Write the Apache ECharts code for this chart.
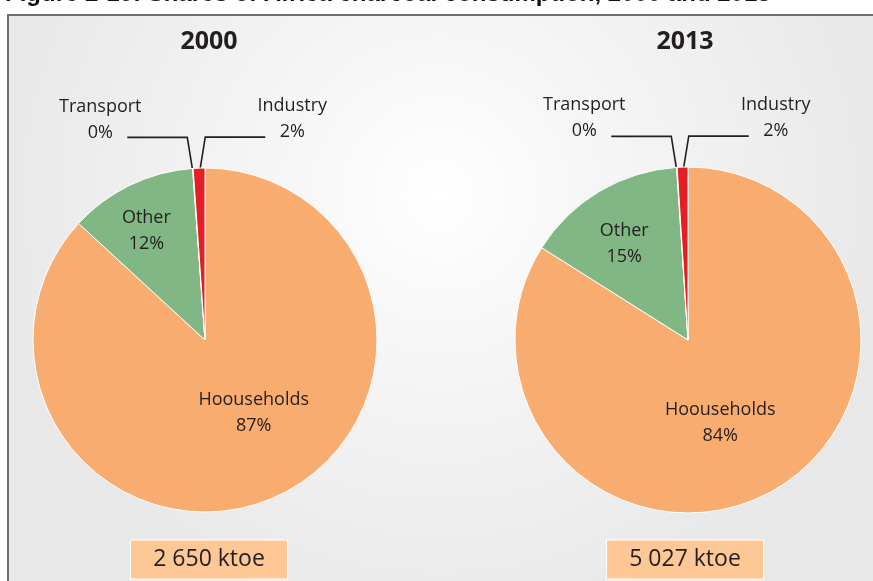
<!DOCTYPE html>
<html>
<head>
<meta charset="utf-8">
<script src="https://cdn.jsdelivr.net/npm/echarts@6/dist/echarts.min.js"></script>
<style>
  html, body { margin: 0; padding: 0; background: #fff; }
  #charcoalChart { width: 873px; height: 581px; }
</style>
</head>
<body>
<div id="charcoalChart"></div>
<script>
// data
const categories = ["Hoouseholds", "Other", "Transport", "Industry"];
const years = ["2000", "2013"];
const shares2000 = [86.9, 12.0, 0.05, 1.1];
const shares2013 = [84.0, 15.0, 0.05, 1.0];
const shareLabels2000 = ["87%", "12%", "0%", "2%"];
const shareLabels2013 = ["84%", "15%", "0%", "2%"];
const totals = ["2 650 ktoe", "5 027 ktoe"];
const figureTitle = "Figure 2-19: Shares of Africa charcoal consumption, 2000 and 2013";

const sliceColors = ["#f9ac6f", "#80b784", "#c8c8c8", "#e31e25"];
const textColor = "#231f20";
const labelFont = "Open Sans";

// layout of the two pies (pixels)
const pieLayouts = [
  { center: [205, 340], radius: 172, boxX: 209, nudge: [[13, -9], [-20, -29]] },
  { center: [688, 340], radius: 173, boxX: 685, nudge: [[-11, 5], [-18, -19]] },
];

const chart = echarts.init(document.getElementById("charcoalChart"));

function makeLabelLayout(pie) {
  return function (params) {
    const i = params.dataIndex;
    const r = params.labelRect;
    if (i < 2) {
      // inside labels, nudged to where the original puts them
      const n = pie.nudge[i];
      return {
        x: r.x + r.width / 2 + n[0],
        y: r.y + r.height / 2 + n[1],
        align: "center",
        verticalAlign: "middle",
      };
    }
    const pts = params.labelLinePoints;
    if (!pts) return {};
    const a = pts[0];
    const ux = a[0] - pie.center[0];
    const uy = a[1] - pie.center[1];
    const len = Math.hypot(ux, uy) || 1;
    const p0 = [a[0] - (ux / len) * 6, a[1] - (uy / len) * 6];
    const side = i === 2 ? -1 : 1; // Transport goes left, Industry right
    const lineY = p0[1] - 37;
    const p1 = [p0[0] + side * 6, lineY];
    const p2 = [p1[0] + side * 60, lineY];
    return {
      x: p2[0] + side * 27,
      y: lineY - 18,
      align: "center",
      verticalAlign: "middle",
      labelLinePoints: [p0, p1, p2],
    };
  };
}

function buildPie(values, labels, pie) {
  return {
    type: "pie",
    center: pie.center,
    radius: pie.radius,
    startAngle: 90,
    clockwise: true,
    avoidLabelOverlap: false,
    silent: true,
    itemStyle: { borderColor: "#ffffff", borderWidth: 1 },
    label: {
      show: true,
      fontFamily: labelFont,
      fontSize: 18,
      lineHeight: 26,
      color: textColor,
      formatter: (p) => p.name + "\n" + labels[p.dataIndex],
    },
    labelLine: {
      show: true,
      length: 20,
      length2: 40,
      lineStyle: { color: textColor, width: 1.6 },
    },
    labelLayout: makeLabelLayout(pie),
    data: categories.map((name, i) => ({
      name: name,
      value: values[i],
      itemStyle: { color: sliceColors[i] },
      label: { position: i < 2 ? "inside" : "outside" },
    })),
  };
}

const graphics = [
  {
    type: "rect",
    z: -10,
    shape: { x: 8, y: 15, width: 900, height: 600 },
    style: {
      fill: new echarts.graphic.RadialGradient(0.48, 0.3, 0.75, [
        { offset: 0, color: "#ffffff" },
        { offset: 0.35, color: "#f6f6f6" },
        { offset: 1, color: "#e8e8e8" },
      ]),
      stroke: "#6e6e6e",
      lineWidth: 2,
    },
  },
  {
    type: "text",
    x: 5,
    y: 6,
    style: {
      text: figureTitle,
      font: 'bold 24px "Liberation Sans"',
      fill: "#111",
      align: "left",
      verticalAlign: "bottom",
    },
  },
];

years.forEach((yr, k) => {
  const pie = pieLayouts[k];
  graphics.push({
    type: "text",
    x: pie.boxX,
    y: 42,
    style: {
      text: yr,
      font: 'bold 25px "Open Sans"',
      fill: textColor,
      align: "center",
      verticalAlign: "middle",
    },
  });
  graphics.push({
    type: "rect",
    shape: { x: pie.boxX - 78.5, y: 540, width: 157, height: 39 },
    style: { fill: "#fec796", stroke: "#ffffff", lineWidth: 1 },
  });
  graphics.push({
    type: "text",
    x: pie.boxX,
    y: 559,
    style: {
      text: totals[k],
      font: '23px "Open Sans"',
      fill: textColor,
      align: "center",
      verticalAlign: "middle",
    },
  });
});

const option = {
  animation: false,
  backgroundColor: "#ffffff",
  graphic: graphics,
  series: [
    buildPie(shares2000, shareLabels2000, pieLayouts[0]),
    buildPie(shares2013, shareLabels2013, pieLayouts[1]),
  ],
};

chart.setOption(option);
</script>
</body>
</html>
